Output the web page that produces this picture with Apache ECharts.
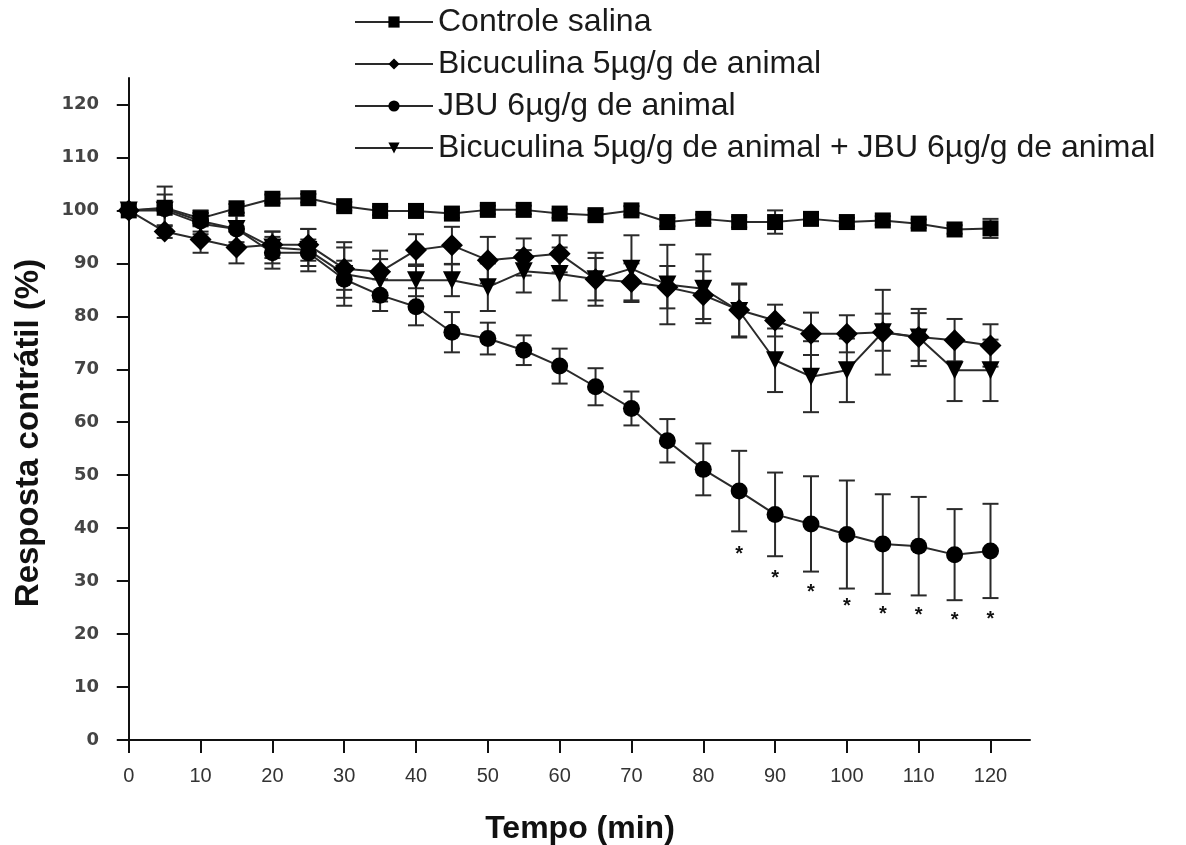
<!DOCTYPE html>
<html>
<head>
<meta charset="utf-8">
<title>Resposta contrátil</title>
<script src="https://cdn.jsdelivr.net/npm/echarts@6/dist/echarts.min.js"></script>
<style>
  html, body { margin: 0; padding: 0; background: #fff; }
  #main { width: 1186px; height: 845px; }
</style>
</head>
<body>
<div id="main"></div>
<script>
// time points (min)
var tempo = [0, 5, 10, 15, 20, 25, 30, 35, 40, 45, 50, 55, 60, 65, 70, 75, 80, 85, 90, 95, 100, 105, 110, 115, 120];

// mean values (%)
var controle = [100, 100.5, 98.5, 100.4, 102.2, 102.3, 100.8, 99.9, 99.9, 99.4, 100.1, 100.1, 99.4, 99.1, 100, 97.8, 98.4, 97.8, 97.8, 98.4, 97.8, 98.1, 97.5, 96.4, 96.6];
var bicuculina = [100, 96, 94.5, 93, 93.5, 93.5, 89, 88.4, 92.5, 93.4, 90.6, 91.2, 91.8, 87, 86.5, 85.5, 84, 81.2, 79.2, 76.7, 76.7, 77, 76.1, 75.5, 74.5];
var jbu = [100, 100.3, 98, 96.5, 92, 92, 87, 84, 81.8, 77, 75.8, 73.6, 70.6, 66.7, 62.6, 56.5, 51.1, 47, 42.6, 40.8, 38.8, 37, 36.6, 35, 35.7];
var bicJbu = [100, 100, 97.5, 96.5, 93, 92.5, 88, 86.8, 86.8, 86.8, 85.5, 88.5, 88, 87, 89, 86, 85.2, 81, 71.7, 68.6, 69.8, 77, 76, 69.8, 69.8];

// error bar half-lengths (%)
var controleErr = [0, 0.5, 1, 0.8, 0.8, 0.8, 0.8, 0.8, 0.8, 0.8, 0.8, 0.8, 0.8, 1, 0.8, 0.8, 0.8, 1, 2.2, 0.8, 0.8, 0.8, 0.8, 0.8, 1.8];
var bicuculinaErr = [0, 1.2, 2.5, 3, 2.5, 3, 4, 4, 3, 3.5, 4.4, 3.5, 3.5, 4, 3.5, 4, 4.5, 5, 3, 4, 3.5, 3.5, 4.5, 4, 4];
var jbuErr = [0, 4.2, 2, 2.5, 3, 2.5, 3.5, 3, 3.5, 3.8, 3, 2.8, 3.3, 3.5, 3.2, 4.1, 4.9, 7.6, 7.9, 9, 10.2, 9.4, 9.3, 8.6, 8.9];
var bicJbuErr = [0, 3, 2, 3, 3, 4, 6, 4, 3, 3, 4.5, 4, 5, 5, 6.3, 7.5, 6.5, 5, 6, 6.7, 6, 8, 5.4, 5.8, 5.8];

// significance marks (*) below the JBU series
var starTempo = [85, 90, 95, 100, 105, 110, 115, 120];
var starLevel = [35.5, 30.9, 28.2, 25.5, 24.0, 23.9, 23.0, 23.2];

// axis ticks
var xTicks = [0, 10, 20, 30, 40, 50, 60, 70, 80, 90, 100, 110, 120];
var yTicks = [0, 10, 20, 30, 40, 50, 60, 70, 80, 90, 100, 110, 120];

var nomes = [
    'Controle salina',
    'Bicuculina 5\u00b5g/g de animal',
    'JBU 6\u00b5g/g de animal',
    'Bicuculina 5\u00b5g/g de animal + JBU 6\u00b5g/g de animal'
];

var chart = echarts.init(document.getElementById('main'));

function pares(valores) {
    return tempo.map(function (t, i) { return [t, valores[i]]; });
}

function barrasErro(valores, erros) {
    return tempo.map(function (t, i) { return [t, valores[i] - erros[i], valores[i] + erros[i]]; });
}

// vertical error bar with caps
function desenhaErro(params, api) {
    var baixo = api.coord([api.value(0), api.value(1)]);
    var alto = api.coord([api.value(0), api.value(2)]);
    var cap = 8;
    var estilo = { stroke: '#2a2a2a', lineWidth: 2 };
    return {
        type: 'group',
        children: [
            { type: 'line', shape: { x1: alto[0], y1: alto[1], x2: baixo[0], y2: baixo[1] }, style: estilo },
            { type: 'line', shape: { x1: alto[0] - cap, y1: alto[1], x2: alto[0] + cap, y2: alto[1] }, style: estilo },
            { type: 'line', shape: { x1: baixo[0] - cap, y1: baixo[1], x2: baixo[0] + cap, y2: baixo[1] }, style: estilo }
        ]
    };
}

function serieErro(valores, erros) {
    return {
        type: 'custom',
        renderItem: desenhaErro,
        data: barrasErro(valores, erros),
        encode: { x: 0, y: [1, 2] },
        z: 1,
        silent: true
    };
}

function serieLinha(nome, valores, simbolo, tamanho, rot) {
    return {
        name: nome,
        type: 'line',
        data: pares(valores),
        symbol: simbolo,
        symbolSize: tamanho,
        symbolRotate: rot || 0,
        showAllSymbol: true,
        lineStyle: { color: '#2a2a2a', width: 2 },
        itemStyle: { color: '#000', borderWidth: 0 },
        z: 3
    };
}

var option = {
    backgroundColor: '#fff',
    animation: false,
    textStyle: { fontFamily: 'Liberation Sans, Arial, sans-serif' },
    legend: {
        data: nomes,
        orient: 'vertical',
        left: 349,
        top: 0,
        itemWidth: 78,
        itemHeight: 14,
        itemGap: 8,
        textStyle: { fontSize: 32, lineHeight: 34, color: '#1a1a1a', fontFamily: 'Liberation Sans, Arial, sans-serif' },
        selectedMode: false
    },
    grid: { left: 118, right: 156, top: 78, bottom: 105, outerBoundsMode: 'none' },
    xAxis: {
        type: 'value',
        min: -1.5,
        max: 125.5,
        name: 'Tempo (min)',
        nameLocation: 'middle',
        nameGap: 73,
        nameTextStyle: { fontSize: 32, fontWeight: 'bold', color: '#111', padding: [0, 0, 0, 12] },
        splitLine: { show: false },
        axisLine: { onZero: false, lineStyle: { color: '#111', width: 2 } },
        axisTick: { customValues: xTicks, length: 13, lineStyle: { color: '#111', width: 2 } },
        axisLabel: { customValues: xTicks, margin: 26, fontSize: 20, color: '#333' }
    },
    yAxis: {
        type: 'value',
        min: 0,
        max: 125,
        name: 'Resposta contrátil (%)',
        nameLocation: 'middle',
        nameGap: 73,
        nameTextStyle: { fontSize: 33, fontWeight: 'bold', color: '#111', padding: [0, 48, 0, 0] },
        splitLine: { show: false },
        axisLine: { show: true, onZero: true, lineStyle: { color: '#111', width: 2 } },
        axisTick: { show: true, customValues: yTicks, length: 12, lineStyle: { color: '#111', width: 2 } },
        axisLabel: { customValues: yTicks, margin: 19, fontSize: 18, fontWeight: 'bold', color: '#444', fontFamily: 'DejaVu Sans, sans-serif' }
    },
    series: [
        serieErro(controle, controleErr),
        serieErro(bicuculina, bicuculinaErr),
        serieErro(jbu, jbuErr),
        serieErro(bicJbu, bicJbuErr),
        serieLinha(nomes[0], controle, 'rect', 16),
        serieLinha(nomes[1], bicuculina, 'diamond', 22),
        serieLinha(nomes[2], jbu, 'circle', 17),
        serieLinha(nomes[3], bicJbu, 'triangle', 18, 180),
        {
            type: 'custom',
            silent: true,
            z: 4,
            data: starTempo.map(function (t, i) { return [t, starLevel[i]]; }),
            encode: { x: 0, y: 1 },
            renderItem: function (params, api) {
                var p = api.coord([api.value(0), api.value(1)]);
                return {
                    type: 'text',
                    style: {
                        x: p[0], y: p[1] + 2,
                        text: '*',
                        fill: '#111',
                        font: 'bold 20px Liberation Sans, Arial, sans-serif',
                        align: 'center',
                        verticalAlign: 'middle'
                    }
                };
            }
        }
    ]
};

chart.setOption(option);
</script>
</body>
</html>
